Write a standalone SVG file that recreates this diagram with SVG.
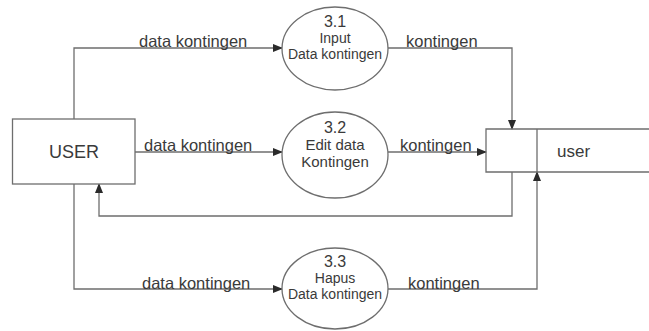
<svg xmlns="http://www.w3.org/2000/svg" width="649" height="331" viewBox="0 0 649 331">
<style>
  .shape { fill: #ffffff; stroke: #6e6e6e; stroke-width: 1.3; }
  .conn { fill: none; stroke: #6e6e6e; stroke-width: 1.3; }
  text { font-family: "Liberation Sans", Arial, sans-serif; fill: #3a3a3a; }
  .lbl { font-size: 16.5px; }
  .num { font-size: 16px; text-anchor: middle; }
  .in { font-size: 14px; text-anchor: middle; }
</style>
<defs>
  <marker id="arr" markerWidth="10" markerHeight="8" refX="9" refY="4" orient="auto" markerUnits="userSpaceOnUse">
    <path d="M0,0 L10,4 L0,8 Z" fill="#2a2a2a"/>
  </marker>
</defs>
<rect width="649" height="331" fill="#ffffff"/>
<g id="connectors">
  <path class="conn" d="M74,119 V48 H282" marker-end="url(#arr)"/>
  <path class="conn" d="M388,48 H512 V129" marker-end="url(#arr)"/>
  <path class="conn" d="M135,152 H282" marker-end="url(#arr)"/>
  <path class="conn" d="M388,152 H486" marker-end="url(#arr)"/>
  <path class="conn" d="M512,172 V216 H99 V184" marker-end="url(#arr)"/>
  <path class="conn" d="M74,184 V289 H282" marker-end="url(#arr)"/>
  <path class="conn" d="M388,289 H537 V172" marker-end="url(#arr)"/>
  <text class="lbl" x="139" y="47">data kontingen</text>
  <text class="lbl" x="406" y="47">kontingen</text>
  <text class="lbl" x="144" y="151">data kontingen</text>
  <text class="lbl" x="400" y="151">kontingen</text>
  <text class="lbl" x="142" y="289">data kontingen</text>
  <text class="lbl" x="408" y="289">kontingen</text>
</g>
<g id="user-entity">
  <rect class="shape" x="12.5" y="119" width="122.5" height="65"/>
  <text x="74" y="158" font-size="18" text-anchor="middle">USER</text>
</g>
<g id="p3-1">
  <ellipse class="shape" cx="335" cy="48.5" rx="53" ry="41.5"/>
  <text class="num" x="335" y="27">3.1</text>
  <text class="in" x="335" y="43">Input</text>
  <text class="in" x="335" y="59">Data kontingen</text>
</g>
<g id="p3-2">
  <ellipse class="shape" cx="335" cy="155" rx="53" ry="43"/>
  <text class="num" x="335" y="133">3.2</text>
  <text x="335" y="150" font-size="15" text-anchor="middle">Edit data</text>
  <text x="335" y="167" font-size="15" text-anchor="middle">Kontingen</text>
</g>
<g id="p3-3">
  <ellipse class="shape" cx="335" cy="288.5" rx="53" ry="40.5"/>
  <text class="num" x="335" y="267">3.3</text>
  <text class="in" x="335" y="283">Hapus</text>
  <text class="in" x="335" y="299">Data kontingen</text>
</g>
<g id="store-user">
  <path class="conn" d="M650,129 H486 V172 H650 M537,129 V172"/>
  <text x="557" y="157" font-size="17">user</text>
</g>
</svg>
